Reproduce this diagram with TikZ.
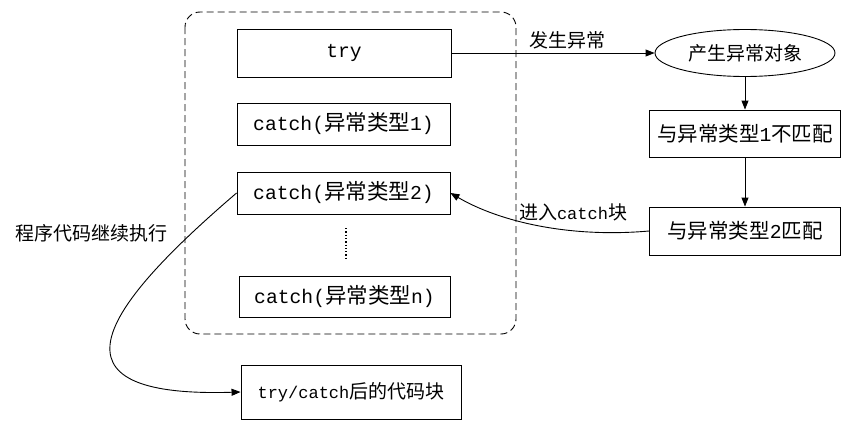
\documentclass[tikz,border=0pt]{standalone}
\usepackage{fontspec}
\setmainfont{Liberation Mono}
\newfontfamily\cjk{Noto Sans CJK SC}
\usetikzlibrary{arrows.meta,shapes.geometric}
\begin{document}
\begin{tikzpicture}[x=1pt,y=-1pt,line width=0.9pt,
  box/.style={draw,rectangle,inner sep=0pt,font=\fontsize{19.7}{22}\selectfont},
  lbl/.style={inner sep=0pt,font=\fontsize{17}{20}\selectfont},
  arr/.style={-{Triangle[length=9pt,width=7pt]}},
  frame/.style={draw,dash pattern=on 7pt off 4pt,rounded corners=15pt}]
\useasboundingbox (0,0) rectangle (847,423);
\newcommand{\bz}[1]{{\cjk\fontsize{21.5}{24}\selectfont #1}}
\newcommand{\mz}[1]{{\cjk\fontsize{20.5}{24}\selectfont #1}}
\newcommand{\sz}[1]{{\cjk\fontsize{19}{22}\selectfont #1}}
% dashed frame
\draw[frame] (185,12) rectangle (516,334);
% left boxes
\node[box,minimum width=214pt,minimum height=48pt] (try) at (344,53) {try};
\node[box,minimum width=213pt,minimum height=42pt] (c1) at (343.5,124) {catch(\bz{异常类型}1)};
\node[box,minimum width=213pt,minimum height=42pt] (c2) at (343.5,193) {catch(\bz{异常类型}2)};
\node[box,minimum width=211pt,minimum height=41pt] (cn) at (344.5,296.5) {catch(\bz{异常类型}n)};
\coordinate (d1) at (346,228);
\coordinate (d2) at (346,260);
\draw[dotted,line width=1.3pt] (d1) -- (d2);
% right side
\node[draw,ellipse,inner sep=0pt,minimum width=180pt,minimum height=47pt] (ex) at (745,53) {\sz{产生异常对象}};
\node[box,minimum width=191pt,minimum height=47pt] (m1) at (745,133.5) {\mz{与异常类型}1\mz{不匹配}};
\node[box,minimum width=191pt,minimum height=48pt] (m2) at (745,231) {\mz{与异常类型}2\mz{匹配}};
\node[box,minimum width=220pt,minimum height=54pt,font=\fontsize{17}{20}\selectfont] (after) at (351,392) {try/catch\sz{后的代码块}};
% labels
\node[lbl] (l1) at (567,40) {\sz{发生异常}};
\node[lbl] (l2) at (573,212) {\sz{进入}catch\sz{块}};
\node[lbl] (l3) at (92,233) {\sz{程序代码继续执行}};
% connectors
\draw[arr] (try.east) -- (ex.west);
\draw[arr] (ex.south) -- (m1.north);
\draw[arr] (m1.south) -- (m2.north);
\draw[arr] (m2.west) .. controls (570,238) and (500,222) .. (c2.east);
\draw[arr] (c2.west) .. controls (100,310) and (40,398) .. (after.west);
\end{tikzpicture}
\end{document}
